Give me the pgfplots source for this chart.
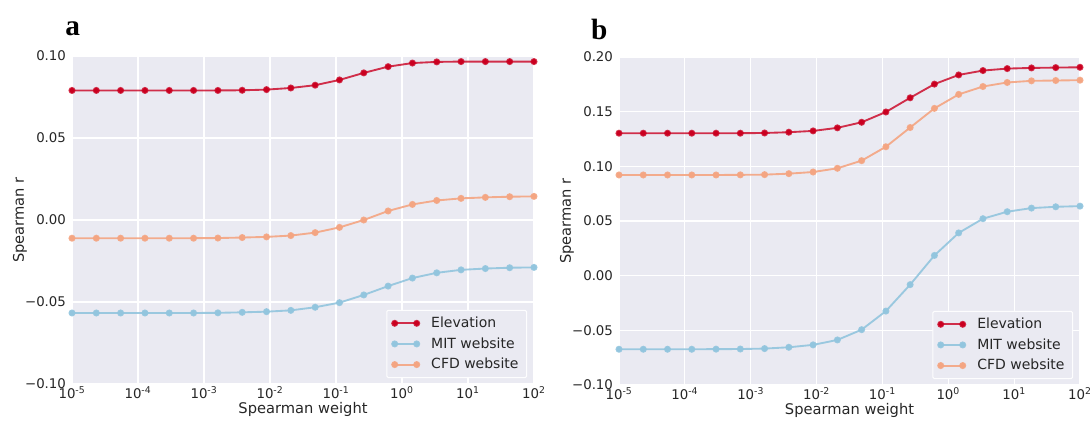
\documentclass[border=0pt]{standalone}
\usepackage{pgfplots}
\pgfplotsset{compat=1.18}
\usepackage{pgfplotstable}
\usepackage{fontspec}
\setmainfont{DejaVu Sans}
\newfontfamily\panelfont{Liberation Serif}
\definecolor{bgc}{HTML}{EAEAF2}
\definecolor{cElev}{HTML}{CA0020}
\definecolor{cMIT}{HTML}{92C5DE}
\definecolor{cCFD}{HTML}{F4A582}

\pgfplotstableread{
x elev mit cfd
1e-5       0.0790 -0.0567 -0.0111
2.3357e-5  0.0790 -0.0567 -0.0111
5.4556e-5  0.0790 -0.0567 -0.0111
1.2743e-4  0.0790 -0.0567 -0.0111
2.9764e-4  0.0790 -0.0567 -0.0111
6.9519e-4  0.0790 -0.0567 -0.0111
1.6238e-3  0.0790 -0.0566 -0.0110
3.7927e-3  0.0791 -0.0563 -0.0107
8.8587e-3  0.0795 -0.0559 -0.0103
2.0691e-2  0.0805 -0.0551 -0.0095
4.8329e-2  0.0822 -0.0532 -0.0077
0.11288    0.0854 -0.0504 -0.0045
0.26367    0.0897 -0.0457  0.0000
0.61585    0.0935 -0.0403  0.0055
1.4384     0.0957 -0.0354  0.0095
3.3598     0.0964 -0.0322  0.0119
7.8476     0.0966 -0.0304  0.0132
18.330     0.0966 -0.0296  0.0138
42.813     0.0966 -0.0291  0.0142
100        0.0966 -0.0289  0.0144
}\dataA

\pgfplotstableread{
x elev mit cfd
1e-5       0.1303 -0.0673 0.0921
2.3357e-5  0.1303 -0.0673 0.0921
5.4556e-5  0.1303 -0.0673 0.0921
1.2743e-4  0.1303 -0.0673 0.0921
2.9764e-4  0.1303 -0.0672 0.0921
6.9519e-4  0.1303 -0.0671 0.0922
1.6238e-3  0.1305 -0.0667 0.0924
3.7927e-3  0.1312 -0.0655 0.0933
8.8587e-3  0.1324 -0.0633 0.0948
2.0691e-2  0.1352 -0.0588 0.0982
4.8329e-2  0.1403 -0.0494 0.1052
0.11288    0.1497 -0.0324 0.1179
0.26367    0.1627 -0.0082 0.1355
0.61585    0.1752  0.0185 0.1530
1.4384     0.1836  0.0391 0.1658
3.3598     0.1876  0.0521 0.1730
7.8476     0.1894  0.0585 0.1767
18.330     0.1900  0.0618 0.1782
42.813     0.1903  0.0630 0.1785
100        0.1906  0.0636 0.1788
}\dataB

\pgfplotsset{
  every axis/.append style={
    scale only axis,
    height=246pt,
    xmin=1e-5, xmax=1e2,
    axis background/.style={fill=bgc},
    grid=major,
    major grid style={draw=white, line width=0.9pt},
    axis line style={draw=none},
    tick style={draw=none},
    xtick={1e-5,1e-4,1e-3,1e-2,1e-1,1e0,1e1,1e2},
    xticklabels={10\textsuperscript{-5},10\textsuperscript{-4},10\textsuperscript{-3},10\textsuperscript{-2},10\textsuperscript{-1},10\textsuperscript{0},10\textsuperscript{1},10\textsuperscript{2}},
    tick label style={font=\fontsize{10}{12}\selectfont, text=black!85},
    xticklabel style={yshift=1.5pt},
    yticklabel style={xshift=-1pt},
    xlabel={Spearman weight},
    ylabel={Spearman r},
    label style={font=\fontsize{11}{13}\selectfont, text=black!85},
    xlabel style={at={(rel axis cs:0.5,0)}, anchor=center, yshift=-19pt},
    ylabel style={at={(rel axis cs:0,0.5)}, anchor=center, yshift=39pt},
    legend cell align=left,
    legend image code/.code={\draw[##1] plot coordinates {(0cm,0cm) (0.58cm,0cm)};},
    legend style={at={(rel axis cs:0.985,0.018)}, anchor=south east,
      fill=bgc, draw=white!92!bgc, line width=0.8pt, rounded corners=1pt,
      font=\fontsize{10.5}{13}\selectfont, text=black!85,
      row sep=2pt, inner xsep=4pt, inner ysep=3pt,
      /tikz/every odd column/.append style={column sep=7pt}},
  },
  every axis plot/.append style={line width=1.4pt, mark=*, mark size=1.9pt, mark options={solid}},
}

\begin{document}
\begin{tikzpicture}
\path[use as bounding box] (0,0) rectangle (818.25pt,315.75pt);

\begin{semilogxaxis}[at={(54pt,27.75pt)}, anchor=south west, width=346.5pt,
  ymin=-0.1, ymax=0.1,
  ytick={-0.1,-0.05,0,0.05,0.1},
  yticklabels={−0.10,−0.05,0.00,0.05,0.10}]
\addplot[color=cElev, draw opacity=0.8] table[x=x,y=elev] {\dataA};
\addlegendentry{Elevation}
\addplot[color=cMIT, draw opacity=0.9] table[x=x,y=mit] {\dataA};
\addlegendentry{MIT website}
\addplot[color=cCFD, draw opacity=0.9] table[x=x,y=cfd] {\dataA};
\addlegendentry{CFD website}
\end{semilogxaxis}

\begin{semilogxaxis}[at={(464.25pt,27pt)}, anchor=south west, width=345.75pt,
  ymin=-0.1, ymax=0.2,
  ytick={-0.1,-0.05,0,0.05,0.1,0.15,0.2},
  yticklabels={−0.10,−0.05,0.00,0.05,0.10,0.15,0.20}]
\addplot[color=cElev, draw opacity=0.8] table[x=x,y=elev] {\dataB};
\addlegendentry{Elevation}
\addplot[color=cMIT, draw opacity=0.9] table[x=x,y=mit] {\dataB};
\addlegendentry{MIT website}
\addplot[color=cCFD, draw opacity=0.9] table[x=x,y=cfd] {\dataB};
\addlegendentry{CFD website}
\end{semilogxaxis}

\node[font=\panelfont\bfseries\fontsize{22}{24}\selectfont, anchor=center] at (54.5pt,294pt) {a};
\node[font=\panelfont\bfseries\fontsize{22}{24}\selectfont, anchor=center] at (449.5pt,294pt) {b};
\end{tikzpicture}
\end{document}
